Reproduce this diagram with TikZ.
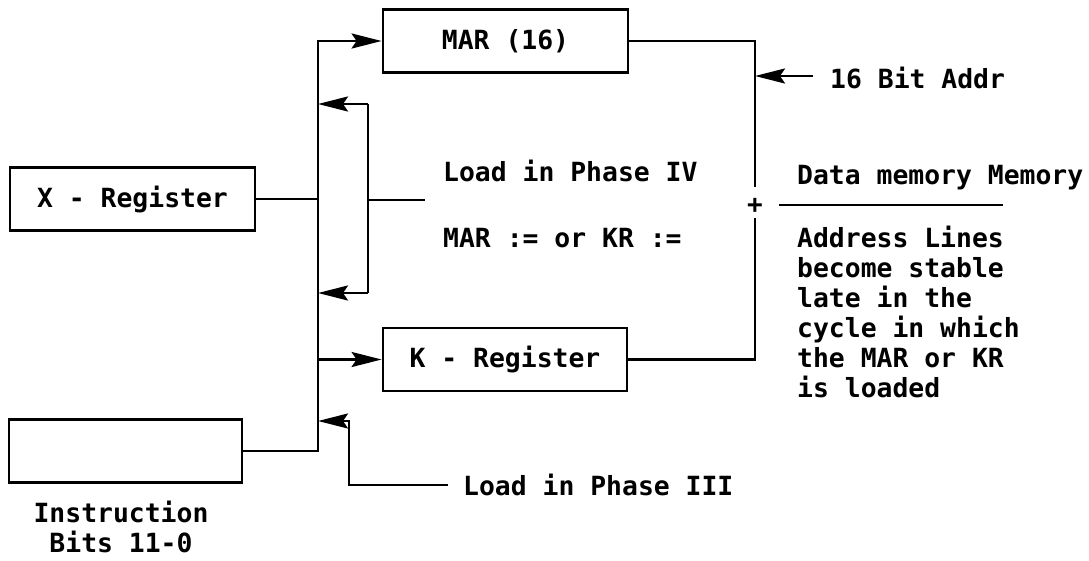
\documentclass[tikz,border=0pt]{standalone}
\usepackage{fontspec}
\setmonofont{DejaVu Sans Mono}
\usetikzlibrary{arrows.meta}
\begin{document}
\begin{tikzpicture}[x=1pt,y=-1pt,
  every node/.style={font=\ttfamily\bfseries\fontsize{26.4}{30}\selectfont, inner sep=0pt},
  reg/.style={draw, line width=2.8pt, minimum width=#1, minimum height=63pt},
  wire/.style={line width=2.8pt},
  arr/.style={wire, -{Stealth[length=30pt,width=15pt,inset=5pt]}},
  txt/.style={anchor=base west}]
\useasboundingbox (0,0) rectangle (1089,560);
% registers
\node[reg=245pt] (xreg) at (132.5,199) {X - Register};
\node[reg=245pt] (mar) at (505.5,41) {MAR (16)};
\node[reg=244pt] (kreg) at (505,359.5) {K - Register};
\node[reg=233pt] (instr) at (125.5,451) {};
% helper coordinates
\coordinate (btop) at (318,41);
\coordinate (brtop) at (368,104);
\coordinate (brbot) at (368,293);
\coordinate (brend) at (425,200);
\coordinate (p3s) at (448,485);
\coordinate (p3c) at (349,485);
\coordinate (p3t) at (349,421);
\coordinate (rtop) at (755,41);
\coordinate (rgap) at (755,187);
\coordinate (rlow) at (755,218);
\coordinate (adds) at (813,76);
\coordinate (ulineL) at (779,205);
\coordinate (ulineR) at (1003,205);
% bus
\draw[arr] (instr.east) -| (btop) -- (mar.west);
\draw[wire] (xreg.east) -- (xreg.east -| btop);
\draw[arr] (kreg.west -| btop) -- (kreg.west);
% bracket (Phase IV)
\draw[arr] (brtop) -- (brtop -| btop);
\draw[arr] (brbot) -- (brbot -| btop);
\draw[wire] (brtop) -- (brbot);
\draw[wire] (brend -| brtop) -- (brend);
% Phase III
\draw[arr] (p3s) -- (p3c) -- (p3t) -- (p3t -| btop);
% right side
\draw[wire] (mar.east) -- (rtop) -- (rgap);
\draw[wire] (rlow) -- (kreg.east -| rlow) -- (kreg.east);
\node[font=\ttfamily\bfseries\fontsize{26}{28}\selectfont] (plus) at (755,206) {+};
\draw[arr] (adds) -- (adds -| rtop);
\draw[wire] (ulineL) -- (ulineR);
% texts
\node[txt] (addr) at (830,88) {16 Bit Addr};
\node[txt] (p4a) at (443,181) {Load in Phase IV};
\node[txt] (p4b) at (443,247) {MAR := or KR :=};
\node[txt] (dm) at (797,184) {Data memory Memory};
\node[anchor=base west, align=left] (note) at (797,397) {Address Lines\\become stable\\late in the\\cycle in which\\the MAR or KR\\is loaded};
\node[txt] (p3) at (463,495) {Load in Phase III};
\node[anchor=base, align=center] (ilab) at (121,552) {Instruction\\Bits 11-0};
\end{tikzpicture}
\end{document}
